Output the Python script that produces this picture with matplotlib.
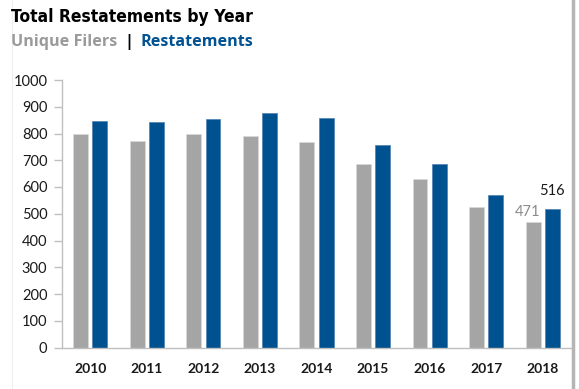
import matplotlib
matplotlib.use("Agg")
import matplotlib.pyplot as plt
from matplotlib.lines import Line2D
import numpy as np

years = ["2010", "2011", "2012", "2013", "2014", "2015", "2016", "2017", "2018"]
unique_filers = [800, 772, 800, 790, 769, 686, 629, 524, 471]
restatements = [847, 844, 854, 877, 857, 758, 685, 571, 516]
y_ticks = [0, 100, 200, 300, 400, 500, 600, 700, 800, 900, 1000]

GRAY = "#a5a5a5"
BLUE = "#00518f"
BODY_FONT = ["Lato", "DejaVu Sans"]
SUB_FONT = ["Open Sans", "DejaVu Sans"]

fig = plt.figure(figsize=(5.79, 3.89), dpi=100)
fig.patch.set_facecolor("white")
ax = fig.add_axes([62 / 579, 1 - 347.5 / 389, (571 - 62) / 579, (347.5 - 80) / 389])

x = np.arange(len(years))
w = 0.265
off = 0.17
ax.bar(x - off, unique_filers, width=w, color=GRAY, edgecolor="#d9d9d9", linewidth=0.5, zorder=2)
ax.bar(x + off, restatements, width=w, color=BLUE, edgecolor="#4f81b0", linewidth=0.5, zorder=2)

ax.set_xlim(-0.5, len(years) - 0.5)
ax.set_ylim(0, 1000)
ax.set_yticks(y_ticks)
ax.set_xticks(x)
ax.set_xticklabels(years, fontsize=10, fontweight="bold", family=BODY_FONT, color="#1a1a1a")
ax.set_yticklabels([str(t) for t in y_ticks], fontsize=10.5, family=BODY_FONT, color="#1a1a1a")

for s in ["top", "right"]:
    ax.spines[s].set_visible(False)
for s in ["left", "bottom"]:
    ax.spines[s].set_color("#bfbfbf")
    ax.spines[s].set_linewidth(1.0)
ax.tick_params(axis="y", length=6, width=1.0, color="#bfbfbf", pad=4.5)
ax.tick_params(axis="x", length=0, pad=11)

# value labels on the last year
last = len(years) - 1
ax.annotate(str(unique_filers[last]), (x[last] - off, unique_filers[last]),
            xytext=(-4, 2), textcoords="offset points", ha="center", va="bottom",
            fontsize=10.5, family=BODY_FONT, color="#8c8c8c")
ax.annotate(str(restatements[last]), (x[last] + off, restatements[last]),
            xytext=(0, 8), textcoords="offset points", ha="center", va="bottom",
            fontsize=10.5, family=BODY_FONT, color="#1a1a1a")

# title and colour-keyed subtitle
fig.text(11 / 579, 1 - 17 / 389, "Total Restatements by Year", ha="left", va="center",
         fontsize=12.5, fontweight="bold", fontstretch="condensed",
         family=["DejaVu Sans"], color="black")
t1 = fig.text(11 / 579, 1 - 42 / 389, "Unique Filers", ha="left", va="center",
              fontsize=11.6, fontweight="bold", family=SUB_FONT, color="#9a9a9a")
fig.canvas.draw()
bb = t1.get_window_extent()
t2 = fig.text((bb.x1 + 7) / 579, 1 - 42 / 389, "|", ha="left", va="center",
              fontsize=11.6, fontweight="bold", family=SUB_FONT, color="black")
bb2 = t2.get_window_extent()
fig.text((bb2.x1 + 7) / 579, 1 - 42 / 389, "Restatements", ha="left", va="center",
         fontsize=11.6, fontweight="bold", family=SUB_FONT, color="#005293")

# frame edges: faint left rule and a shaded right edge
fig.add_artist(Line2D([12 / 579, 12 / 579], [0, 1], transform=fig.transFigure,
                      color="#eeeeee", linewidth=0.8))
fig.add_artist(Line2D([573 / 579, 573 / 579], [0, 1], transform=fig.transFigure,
                      color="#b5b5b5", linewidth=2.5))

fig.savefig("out.png", dpi=100, facecolor="white")
